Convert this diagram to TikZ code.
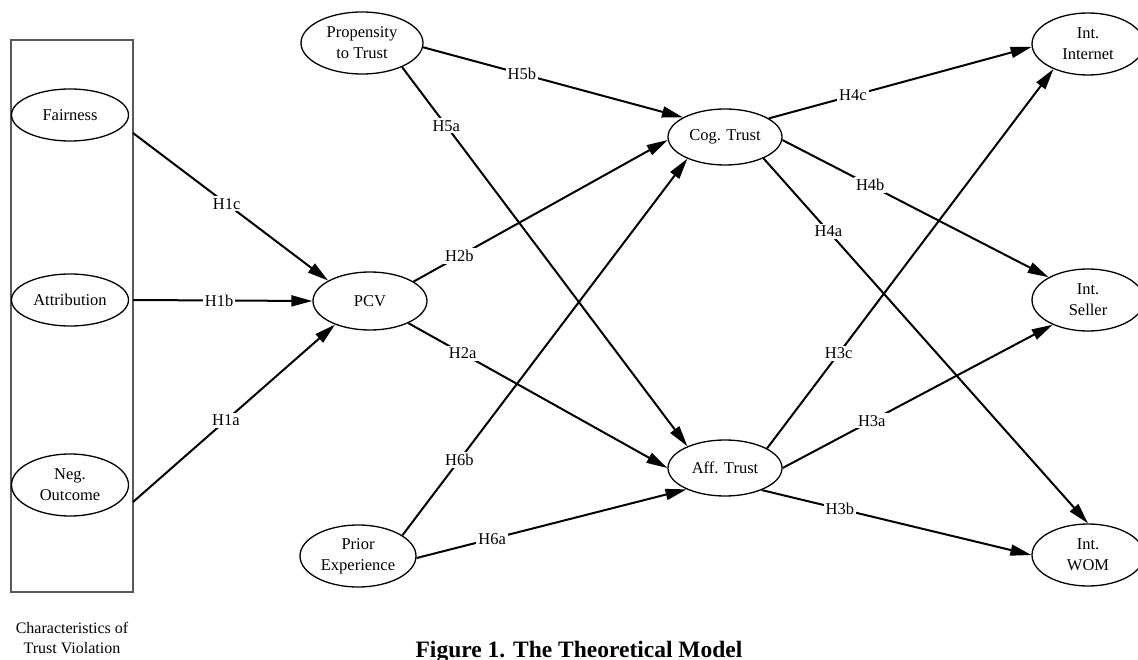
\documentclass[tikz,border=0pt]{standalone}
\usepackage{fontspec}
\setmainfont{Liberation Serif}
\usetikzlibrary{arrows.meta,shapes.geometric}

\begin{document}
\begin{tikzpicture}[x=1pt,y=-1pt,
  latent/.style={draw,ellipse,line width=1.3pt,minimum width=114,minimum height=56,
    inner sep=0pt,align=center,font=\fontsize{16.5}{21}\selectfont},
  tall/.style={minimum height=62},
  link/.style={line width=2pt,-{Triangle[length=21pt,width=11pt]}},
  hyp/.style={fill=white,inner sep=2pt,font=\fontsize{16.5}{18}\selectfont}]
  \useasboundingbox (0,0) rectangle (1138,660);
  % trust violation block
  \draw[black!65,line width=1.5pt] (11,40) rectangle (133,592);
  \node[align=center,font=\fontsize{16}{20}\selectfont] (blockcap) at (72,638) {Characteristics of\\Trust Violation};
  \node[latent,minimum width=117,minimum height=52] (fair) at (70,115) {Fairness};
  \node[latent,minimum width=117,minimum height=52] (attr) at (70,300) {Attribution};
  \node[latent,tall,minimum width=117] (neg) at (70,485) {Neg.\\Outcome};
  \coordinate (fairOut) at (133,133);
  \coordinate (attrOut) at (133,300);
  \coordinate (negOut) at (133,502);
  % middle and right
  \node[latent,tall,minimum width=122] (prop) at (362,43) {Propensity\\to Trust};
  \node[latent,minimum height=58] (pcv) at (370,301) {PCV};
  \node[latent,tall,minimum width=116] (prior) at (358,556) {Prior\\Experience};
  \node[latent] (cog) at (725,137) {Cog. Trust};
  \node[latent] (aff) at (725,468) {Aff. Trust};
  \node[latent,tall,minimum width=112] (inet) at (1088,44) {Int.\\Internet};
  \node[latent,tall,minimum width=112] (seller) at (1088,300) {Int.\\Seller};
  \node[latent,tall,minimum width=112] (wom) at (1088,555) {Int.\\WOM};
  % hypotheses
  \draw[link] (fairOut) -- node[hyp,pos=0.48]{H1c} (pcv.154);
  \draw[link] (attrOut) -- node[hyp,pos=0.48]{H1b} (pcv.west);
  \draw[link] (negOut) -- node[hyp,pos=0.46]{H1a} (pcv.214);
  \draw[link] (pcv.24) -- node[hyp,pos=0.18]{H2b} (cog.183);
  \draw[link] (pcv.-30) -- node[hyp,pos=0.21]{H2a} (aff.west);
  \draw[link] (prop.-4) -- node[hyp,pos=0.38]{H5b} (cog.155);
  \draw[link] (prop.-31) -- node[hyp,pos=0.155]{H5a} (aff.150);
  \draw[link] (prior.25) -- node[hyp,pos=0.2]{H6b} (cog.210);
  \draw[link] (prior.-2) -- node[hyp,pos=0.28]{H6a} (aff.209);
  \draw[link] (cog.23) -- node[hyp,pos=0.32]{H4c} (inet.183);
  \draw[link] (cog.-3) -- node[hyp,pos=0.33]{H4b} (seller.150);
  \draw[link] (cog.-29) -- node[hyp,pos=0.2]{H4a} (wom.north);
  \draw[link] (aff.25) -- node[hyp,pos=0.25]{H3c} (inet.216);
  \draw[link] (aff.east) -- node[hyp,pos=0.33]{H3a} (seller.215);
  \draw[link] (aff.-31) -- node[hyp,pos=0.29]{H3b} (wom.west);
  \node[anchor=base,font=\bfseries\fontsize{23.5}{26}\selectfont] (title) at (579,657) {Figure 1. The Theoretical Model};
\end{tikzpicture}
\end{document}
